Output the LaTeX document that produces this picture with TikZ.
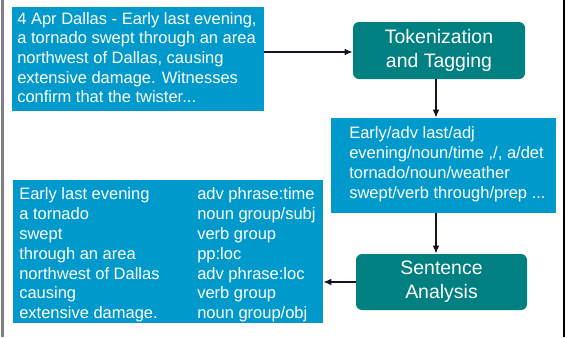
\documentclass[tikz,border=0pt]{standalone}
\usepackage{fontspec}
\setmainfont{Liberation Sans}
\usetikzlibrary{arrows.meta}
\definecolor{boxblue}{RGB}{0,153,204}
\definecolor{boxteal}{RGB}{0,128,128}
\definecolor{arrowcol}{RGB}{20,20,40}
\begin{document}
\begin{tikzpicture}[x=0.75pt,y=-0.75pt,
  bluebox/.style={fill=boxblue,draw=none,inner sep=0pt},
  tealbox/.style={fill=boxteal,draw=none,rounded corners=4.5pt,inner sep=0pt,
    text=white,align=center,font=\fontsize{14.6pt}{18pt}\selectfont},
  txt/.style={text=white,inner sep=0pt,align=left,anchor=west},
  arr/.style={draw=arrowcol,line width=1.1pt,-{Latex[length=6pt,width=5pt]}}]
\useasboundingbox (0,0) rectangle (568,337);
% page edges
\coordinate (lt) at (2.5,0); \coordinate (lb) at (2.5,337);
\coordinate (rt) at (564,0); \coordinate (rb) at (564,337);
\draw[gray,line width=1.5pt] (lt) -- (lb);
\draw[black,line width=1.1pt] (rt) -- (rb);
% boxes
\node[bluebox,minimum width=189pt,minimum height=78pt] (src) at (138,59) {};
\node[txt,font=\fontsize{12.375pt}{14.7pt}\selectfont] (srctext) at (17,57.5)
  {4 Apr Dallas - Early last evening,\\a tornado swept through an area\\northwest of Dallas, causing\\extensive damage. Witnesses\\confirm that the twister...};
\node[tealbox,minimum width=129pt,minimum height=42.75pt] (tok) at (439,50.5) {Tokenization\\and Tagging};
\node[bluebox,minimum width=168.75pt,minimum height=71.25pt] (tagged) at (443.5,165.5) {};
\node[txt,font=\fontsize{12.375pt}{15pt}\selectfont] (taggedtext) at (349,163.75)
  {Early/adv last/adj\\evening/noun/time ,/, a/det\\tornado/noun/weather\\swept/verb through/prep ...};
\node[tealbox,minimum width=128.25pt,minimum height=42pt] (sent) at (441.5,282) {Sentence\\Analysis};
\node[bluebox,minimum width=232.5pt,minimum height=107.25pt] (parsed) at (168,251.5) {};
\node[txt,font=\fontsize{12.375pt}{14.85pt}\selectfont] (parsedl) at (19,255)
  {Early last evening\\a tornado\\swept\\through an area\\northwest of Dallas\\causing\\extensive damage.};
\node[txt,font=\fontsize{12.375pt}{14.85pt}\selectfont] (parsedr) at (197,255)
  {adv phrase:time\\noun group/subj\\verb group\\pp:loc\\adv phrase:loc\\verb group\\noun group/obj};
% connectors
\coordinate (vx) at (436,0);
\coordinate (hy) at (0,52);
\draw[arr] (src.east |- hy) -- (tok.west |- hy);
\draw[arr] (tok.south -| vx) -- (tagged.north -| vx);
\draw[arr] (tagged.south -| vx) -- (sent.north -| vx);
\draw[arr] (sent.west) -- (sent.west -| parsed.east);
\end{tikzpicture}
\end{document}
